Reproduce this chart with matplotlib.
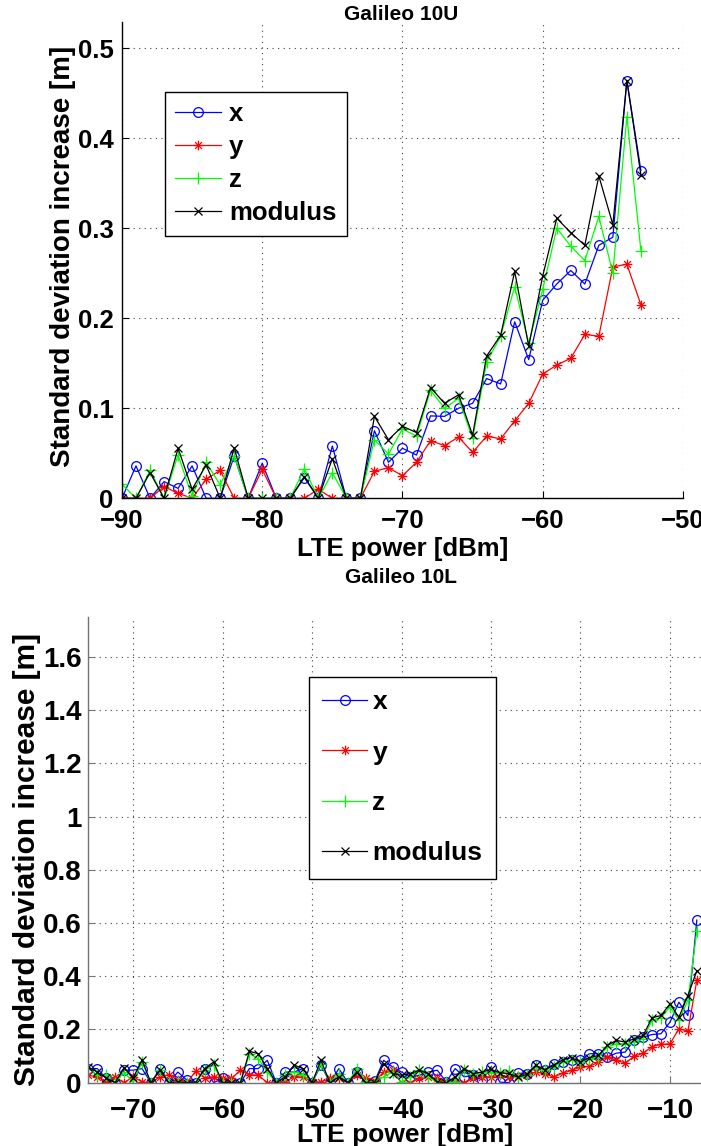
import numpy as np
import matplotlib
matplotlib.use("Agg")
import matplotlib.pyplot as plt
from matplotlib.path import Path

plt.rcParams['font.family'] = ['Liberation Sans', 'DejaVu Sans']
plt.rcParams['font.weight'] = 'bold'

# Galileo 10U (oben)
power_u = list(range(-90, -52))
x_u = [0, 0.036, 0, 0.0185, 0.011, 0.036, 0, 0, 0.047, 0, 0.039, 0, 0, 0.023, 0, 0.058, 0, 0, 0.075,
       0.040, 0.0555, 0.048, 0.0915, 0.091, 0.100, 0.1055, 0.133, 0.127, 0.196, 0.154, 0.220, 0.238,
       0.253, 0.238, 0.281, 0.290, 0.464, 0.364]
y_u = [0, 0, 0, 0.013, 0.0055, 0, 0.021, 0.031, 0, 0, 0.032, 0, 0, 0, 0.010, 0, 0, 0, 0.030,
       0.034, 0.025, 0.040, 0.064, 0.0585, 0.068, 0.051, 0.069, 0.066, 0.086, 0.1055, 0.138, 0.148,
       0.1555, 0.182, 0.180, 0.257, 0.260, 0.215]
z_u = [0.0155, 0, 0.031, 0, 0.048, 0.002, 0.040, 0.015, 0.047, 0, 0, 0, 0, 0.033, 0, 0.0285, 0, 0, 0.065,
       0.049, 0.077, 0.069, 0.120, 0.100, 0.111, 0.0665, 0.151, 0.180, 0.235, 0.172, 0.232, 0.300,
       0.280, 0.264, 0.313, 0.250, 0.424, 0.275]
mod_u = [0, 0, 0.0285, 0, 0.0555, 0.010, 0.037, 0, 0.056, 0, 0, 0, 0, 0.024, 0, 0.044, 0, 0, 0.091,
         0.065, 0.080, 0.073, 0.123, 0.1055, 0.115, 0.070, 0.158, 0.181, 0.252, 0.169, 0.247, 0.311,
         0.295, 0.281, 0.358, 0.304, 0.464, 0.359]

# Galileo 10L (unten)
power_l = list(range(-75, -6))
x_l = [0.053, 0.053, 0.016, 0, 0.047, 0.047, 0.053, 0, 0.053, 0, 0.040, 0.010, 0, 0.053, 0, 0.016,
       0.003, 0, 0.053, 0.053, 0.084, 0, 0.040, 0.040, 0.053, 0, 0.066, 0, 0.053, 0, 0.040, 0,
       0.005, 0.084, 0.059, 0.040, 0.022, 0.028, 0.040, 0.047, 0.003, 0.053, 0.022, 0.028, 0.010,
       0.059, 0.002, 0, 0.036, 0.034, 0.065, 0.049, 0.069, 0.0775, 0.084, 0.084, 0.109, 0.109,
       0.096, 0.111, 0.115, 0.161, 0.171, 0.181, 0.184, 0.2275, 0.3025, 0.2525, 0.611]
y_l = [0.028, 0.022, 0.003, 0.022, 0, 0.022, 0.003, 0, 0.022, 0.030, 0.010, 0, 0.043, 0.018, 0.022,
       0.018, 0.016, 0.047, 0.030, 0.028, 0, 0, 0.003, 0.022, 0.022, 0.003, 0.003, 0.016, 0.016, 0,
       0.028, 0.016, 0.005, 0.040, 0.047, 0, 0, 0.016, 0.022, 0.016, 0.003, 0.003, 0, 0.016, 0.022,
       0.022, 0.028, 0.021, 0.024, 0.0275, 0.040, 0.034, 0.021, 0.036, 0.046, 0.059, 0.061, 0.0775,
       0.096, 0.084, 0.074, 0.099, 0.111, 0.136, 0.144, 0.146, 0.2025, 0.194, 0.384]
z_l = [0.053, 0.030, 0.028, 0, 0.040, 0, 0.078, 0, 0.047, 0, 0.003, 0, 0, 0.047, 0.066, 0, 0, 0,
       0.109, 0.090, 0.040, 0, 0.028, 0.040, 0.030, 0, 0.072, 0, 0.034, 0, 0.053, 0.003, 0.003,
       0.022, 0.040, 0.003, 0.022, 0.047, 0.022, 0, 0.003, 0.003, 0.047, 0.034, 0.040, 0.038, 0.038,
       0.045, 0.021, 0.0275, 0.059, 0.046, 0.059, 0.0775, 0.084, 0.0775, 0.090, 0.096, 0.134, 0.146,
       0.146, 0.1525, 0.165, 0.234, 0.244, 0.284, 0.234, 0.309, 0.57]
mod_l = [0.059, 0.040, 0.018, 0, 0.057, 0.018, 0.084, 0, 0.047, 0, 0.003, 0, 0, 0.053, 0.078, 0, 0,
         0, 0.118, 0.109, 0.053, 0, 0.022, 0.066, 0.053, 0, 0.084, 0, 0.022, 0, 0.040, 0, 0, 0.072,
         0.034, 0.028, 0.034, 0.047, 0.034, 0.003, 0, 0.022, 0.053, 0.034, 0.040, 0.050, 0.037,
         0.035, 0.021, 0.031, 0.065, 0.049, 0.065, 0.086, 0.094, 0.078, 0.094, 0.1025, 0.140, 0.159,
         0.1525, 0.165, 0.1775, 0.244, 0.2525, 0.296, 0.246, 0.3275, 0.42]

labels = ['x', 'y', 'z', 'modulus']

# MATLAB-Sternchen: + und x übereinander
d = 0.7
asterisk = Path([(0, -1), (0, 1), (-1, 0), (1, 0), (-d, -d), (d, d), (-d, d), (d, -d)],
                [Path.MOVETO, Path.LINETO] * 4)

styles = [dict(color='b', marker='o', markersize=7, markerfacecolor='none', markeredgewidth=0.9),
          dict(color='r', marker=asterisk, markersize=7, markeredgewidth=0.9),
          dict(color=(0, 1, 0), marker='+', markersize=8, markeredgewidth=0.9),
          dict(color='k', marker='x', markersize=6, markeredgewidth=0.9)]


def style_axes(ax, spine_col, fs):
    for s in ['top', 'right']:
        ax.spines[s].set_visible(False)
    for s in ['left', 'bottom']:
        ax.spines[s].set_color(spine_col)
        ax.spines[s].set_linewidth(1.0)
    ax.grid(True, linestyle=(0, (1, 4)), color='0.25', linewidth=0.8)
    ax.tick_params(direction='in', length=5, width=0.8, labelsize=fs, colors=spine_col,
                   labelcolor='k')
    for lab in ax.get_xticklabels() + ax.get_yticklabels():
        lab.set_fontweight('bold')


fig = plt.figure(figsize=(7.01, 11.46), dpi=100)

# oberes Diagramm
ax1 = fig.add_axes([0.1740, 0.5652, 0.8003, 0.4156])
for vals, lab, st in zip([x_u, y_u, z_u, mod_u], labels, styles):
    ax1.plot(power_u, vals, linewidth=0.9, label=lab, **st)
ax1.set_xlim(-90, -50)
ax1.set_ylim(0, 0.529)
ax1.set_xticks([-90, -80, -70, -60, -50])
ax1.set_yticks([0, 0.1, 0.2, 0.3, 0.4, 0.5])
ax1.set_yticklabels(['0', '0.1', '0.2', '0.3', '0.4', '0.5'])
style_axes(ax1, 'k', 18.5)
ax1.tick_params(axis='x', pad=8)
ax1.tick_params(axis='y', pad=6)
ax1.set_xlabel('LTE power [dBm]', fontsize=18.5, fontweight='bold')
ax1.set_ylabel('Standard deviation increase [m]', fontsize=20, fontweight='bold')
ax1.xaxis.set_label_coords(0.5, -0.082)
ax1.yaxis.set_label_coords(-0.082, 0.507)
ax1.text(0.497, 1.015, 'Galileo 10U', transform=ax1.transAxes, ha='center', va='center',
         fontsize=15, fontweight='bold')
leg1 = ax1.legend(loc='upper left', bbox_to_anchor=(0.0766, 0.853), fontsize=18.5,
                  fancybox=False, framealpha=1, edgecolor='k', handlelength=1.8,
                  handletextpad=0.3, labelspacing=0.35, borderpad=0.4, borderaxespad=0)
leg1.get_frame().set_linewidth(1.0)
for t in leg1.get_texts():
    t.set_fontweight('bold')

# unteres Diagramm
ax2 = fig.add_axes([0.1260, 0.05524, 0.8744, 0.4064])
for vals, lab, st in zip([x_l, y_l, z_l, mod_l], labels, styles):
    ax2.plot(power_l, vals, linewidth=0.9, label=lab, **st)
ax2.set_xlim(-75, -6.5)
ax2.set_ylim(0, 1.75)
ax2.set_xticks([-70, -60, -50, -40, -30, -20, -10])
ax2.set_yticks([0, 0.2, 0.4, 0.6, 0.8, 1.0, 1.2, 1.4, 1.6])
ax2.set_yticklabels(['0', '0.2', '0.4', '0.6', '0.8', '1', '1.2', '1.4', '1.6'])
style_axes(ax2, '0.45', 20)
ax2.tick_params(axis='x', pad=11)
ax2.tick_params(axis='y', pad=5)
ax2.set_xlabel('LTE power [dBm]', fontsize=19, fontweight='bold')
ax2.set_ylabel('Standard deviation increase [m]', fontsize=21.5, fontweight='bold')
ax2.xaxis.set_label_coords(0.517, -0.087)
ax2.yaxis.set_label_coords(-0.078, 0.48)
ax2.text(0.51, 1.084, 'Galileo 10L', transform=ax2.transAxes, ha='center', va='center',
         fontsize=15, fontweight='bold')
leg2 = ax2.legend(loc='upper left', bbox_to_anchor=(0.360, 0.871), fontsize=19,
                  fancybox=False, framealpha=1, edgecolor='k', handlelength=1.7,
                  handletextpad=0.2, labelspacing=1.0, borderpad=0.5, borderaxespad=0)
leg2.get_frame().set_linewidth(1.0)
for t in leg2.get_texts():
    t.set_fontweight('bold')

fig.savefig('out.png', dpi=100)
